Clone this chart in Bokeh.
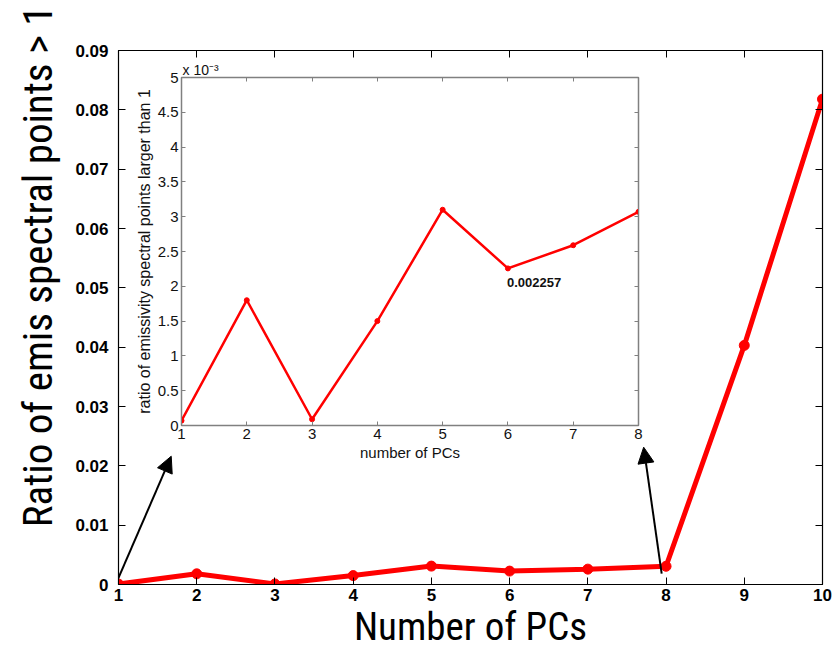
from bokeh.plotting import figure
from bokeh.models import (FixedTicker, CustomJSTickFormatter, LinearAxis, Arrow,
                          NormalHead, Label, Range1d, Title)
from bokeh.embed import file_html
from bokeh.resources import INLINE
import numpy as np

# ---- data ----
pcs_main = [1, 2, 3, 4, 5, 6, 7, 8, 9, 10]
ratio_main = [0.00007, 0.00180, 0.00009, 0.00150, 0.00310, 0.00226, 0.00259, 0.00307, 0.0403, 0.0818]
pcs_inset = [1, 2, 3, 4, 5, 6, 7, 8]
ratio_inset = [0.00007, 0.00180, 0.00009, 0.00150, 0.00310, 0.002257, 0.00259, 0.00307]
annot_text = "0.002257"
annot_x = 6
annot_y = 0.002257

main_xticks = [1, 2, 3, 4, 5, 6, 7, 8, 9, 10]
main_yticks = [0, 0.01, 0.02, 0.03, 0.04, 0.05, 0.06, 0.07, 0.08, 0.09]
inset_xticks = [1, 2, 3, 4, 5, 6, 7, 8]
inset_yticks = [0, 0.0005, 0.001, 0.0015, 0.002, 0.0025, 0.003, 0.0035, 0.004, 0.0045, 0.005]

# arrows (main data coordinates): start -> end
arrow_x_start = [0.97, 7.944]
arrow_y_start = [0.0002, 0.00185]
arrow_x_end = [1.674, 7.714]
arrow_y_end = [0.02162, 0.02314]

RED = "#ff0000"


def empty_fmt():
    return CustomJSTickFormatter(code="return '';")


# ---- main figure ----
p = figure(width=834, height=658, x_range=Range1d(1, 10), y_range=Range1d(0, 0.09),
           output_backend="svg", toolbar_location=None,
           min_border_left=118, min_border_right=12, min_border_top=50, min_border_bottom=74,
           x_axis_label="Number of PCs")
p.grid.visible = False
p.outline_line_color = "black"
p.outline_line_width = 1.2

p.xaxis.ticker = FixedTicker(ticks=main_xticks)
p.yaxis.ticker = FixedTicker(ticks=main_yticks)
p.yaxis.formatter = CustomJSTickFormatter(code="return tick == 0 ? '0' : tick.toFixed(2);")
for ax in (p.xaxis[0], p.yaxis[0]):
    ax.major_tick_in = 7
    ax.major_tick_out = 0
    ax.minor_tick_in = 0
    ax.minor_tick_out = 0
    ax.axis_line_color = "black"
    ax.major_tick_line_color = "black"
    ax.major_label_text_font = "Liberation Sans"
    ax.major_label_text_font_style = "bold"
    ax.major_label_text_font_size = "17px"
    ax.major_label_text_color = "black"
p.xaxis.axis_label_text_font = "Roboto Condensed"
p.xaxis.axis_label_text_font_style = "normal"
p.xaxis.axis_label_text_font_size = "39px"
p.xaxis.axis_label_text_color = "black"
p.xaxis.major_label_standoff = 4
p.xaxis.axis_label_standoff = 0
p.yaxis.major_label_standoff = 10

top_ax = LinearAxis(ticker=FixedTicker(ticks=main_xticks), formatter=empty_fmt(),
                    major_tick_in=7, major_tick_out=0, minor_tick_in=0, minor_tick_out=0)
right_ax = LinearAxis(ticker=FixedTicker(ticks=main_yticks), formatter=empty_fmt(),
                      major_tick_in=7, major_tick_out=0, minor_tick_in=0, minor_tick_out=0)
p.add_layout(top_ax, "above")
p.add_layout(right_ax, "right")

p.add_layout(Title(text="Ratio of emis spectral points > 1", align="right", offset=-45, standoff=22,
                   text_font="Roboto Condensed", text_font_size="41px", text_font_style="normal",
                   text_color="black"), "left")

p.line(pcs_main, ratio_main, line_color=RED, line_width=5)
p.scatter(pcs_main, ratio_main, size=10, fill_color=RED, line_color=RED)

for xs, ys, xe, ye in zip(arrow_x_start, arrow_y_start, arrow_x_end, arrow_y_end):
    p.add_layout(Arrow(x_start=xs, y_start=ys, x_end=xe, y_end=ye, line_color="black", line_width=2,
                       end=NormalHead(size=16, fill_color="black", line_color="black")))

# ---- inset figure ----
GRAY = "#808080"
inset = figure(width=528, height=415, x_range=Range1d(1, 8), y_range=Range1d(0, 0.005),
               output_backend="svg", toolbar_location=None,
               min_border_left=56, min_border_right=15, min_border_top=22, min_border_bottom=45,
               background_fill_alpha=0, border_fill_alpha=0,
               x_axis_label="number of PCs", y_axis_label="ratio of emissivity spectral points larger than 1")
inset.styles = {"position": "absolute", "left": "125px", "top": "55px"}
inset.grid.visible = False
inset.outline_line_color = GRAY
inset.outline_line_width = 1.5
inset.xaxis.ticker = FixedTicker(ticks=inset_xticks)
inset.yaxis.ticker = FixedTicker(ticks=inset_yticks)
inset.yaxis.formatter = CustomJSTickFormatter(code="return (Math.round(tick*10000)/10).toString();")
for ax in (inset.xaxis[0], inset.yaxis[0]):
    ax.major_tick_in = 4
    ax.major_tick_out = 0
    ax.minor_tick_in = 0
    ax.minor_tick_out = 0
    ax.axis_line_color = GRAY
    ax.major_tick_line_color = GRAY
    ax.major_label_text_font = "Liberation Sans"
    ax.major_label_text_font_size = "15px"
    ax.major_label_text_color = "#111111"
    ax.major_label_standoff = 3
    ax.axis_label_text_font = "Liberation Sans"
    ax.axis_label_text_font_style = "normal"
    ax.axis_label_text_color = "#111111"
    ax.axis_label_standoff = 2
inset.xaxis.axis_label_text_font_size = "15px"
inset.yaxis.axis_label_text_font_size = "16px"
itop = LinearAxis(ticker=FixedTicker(ticks=inset_xticks), formatter=empty_fmt(),
                  major_tick_in=4, major_tick_out=0, minor_tick_in=0, minor_tick_out=0,
                  major_label_standoff=0, axis_line_color=GRAY, major_tick_line_color=GRAY)
iright = LinearAxis(ticker=FixedTicker(ticks=inset_yticks), formatter=empty_fmt(),
                    major_tick_in=4, major_tick_out=0, minor_tick_in=0, minor_tick_out=0,
                    major_label_standoff=0, axis_line_color=GRAY, major_tick_line_color=GRAY)
inset.add_layout(itop, "above")
inset.add_layout(iright, "right")
inset.add_layout(Title(text="x 10\u207b\u00b3", align="left", offset=1, standoff=0,
                       text_font="Liberation Sans", text_font_size="14px", text_font_style="normal",
                       text_color="#111111"), "above")

inset.line(pcs_inset, ratio_inset, line_color=RED, line_width=2.5)
inset.scatter(pcs_inset, ratio_inset, size=5, fill_color=RED, line_color=RED)

inset.add_layout(Label(x=annot_x, y=annot_y, text=annot_text, x_offset=-1, y_offset=-10,
                       text_baseline="top", text_align="left", text_font="Liberation Sans",
                       text_font_style="bold", text_font_size="13px", text_color="#111111"))

open("out.html", "w").write(file_html((p, inset), INLINE))
